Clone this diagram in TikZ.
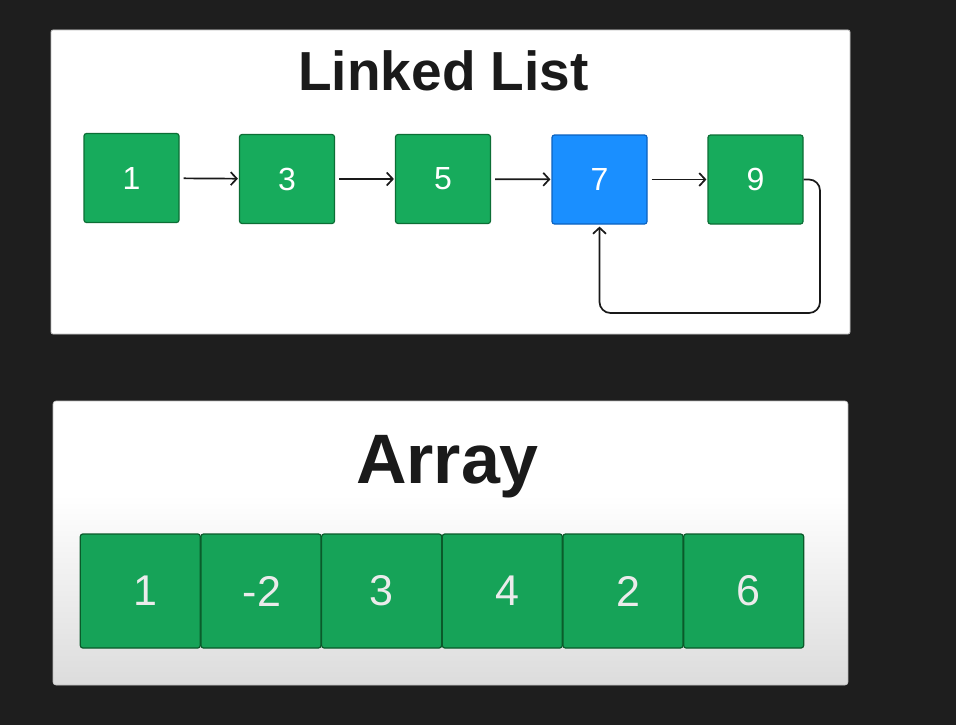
\documentclass[tikz,border=0pt]{standalone}
\usepackage{fontspec}
\setmainfont{Liberation Sans}
\usetikzlibrary{arrows.meta,calc}
\definecolor{bgdark}{HTML}{1E1E1E}
\definecolor{nodegreen}{HTML}{17AB5C}
\definecolor{nodegreenedge}{HTML}{0C6E35}
\definecolor{nodeblue}{HTML}{1A8FFF}
\definecolor{nodeblueedge}{HTML}{0B62C0}
\definecolor{cellgreen}{HTML}{16A358}
\definecolor{celledge}{HTML}{0A5A2A}
\definecolor{titleink}{HTML}{1A1A1A}
\definecolor{panelbot}{HTML}{DCDCDC}
\definecolor{panelline}{HTML}{BDBDBD}
\tikzset{
  listbox/.style={rectangle, rounded corners=2.5pt, minimum width=95pt, minimum height=89pt,
    fill=nodegreen, draw=nodegreenedge, line width=1.2pt, text=white,
    font=\fontsize{32}{36}\selectfont, inner sep=0pt},
  bluebox/.style={listbox, fill=nodeblue, draw=nodeblueedge},
  cellbox/.style={rectangle, rounded corners=2.5pt, minimum width=120pt, minimum height=114pt,
    fill=cellgreen, draw=celledge, line width=1.2pt, text=white!92!black,
    font=\fontsize{43}{48}\selectfont, inner sep=0pt},
  linkarrow/.style={-{Straight Barb[length=6pt,width=13pt,line width=1.7pt]}, line width=1.7pt, black!90},
  title/.style={font=\fontsize{55}{60}\selectfont\bfseries, text=titleink, anchor=base, inner sep=0pt},
}
\begin{document}
\begin{tikzpicture}[x=1pt,y=-1pt]
\fill[bgdark] (0,0) rectangle (956,725);
\useasboundingbox (0,0) rectangle (956,725);
% top panel
\fill[white, draw=panelline, line width=0.8pt, rounded corners=2pt] (51,30) rectangle (850,334);
% bottom panel
\begin{scope}
  \clip[rounded corners=3pt] (53,401) rectangle (848,685);
  \fill[white] (53,401) rectangle (848,685);
  \shade[top color=white, bottom color=panelbot] (53,495) rectangle (848,685);
\end{scope}
\draw[panelline, line width=0.6pt, rounded corners=3pt] (53,401) rectangle (848,685);

\node[title] (lltitle) at (443.5,90) {Linked List};
\node[title, font=\fontsize{70}{76}\selectfont\bfseries] (artitle) at (447.5,483) {Array};

\node[listbox] (n1) at (131.5,178) {1};
\node[listbox] (n3) at (287,179) {3};
\node[listbox] (n5) at (443,179) {5};
\node[bluebox] (n7) at (599.5,179.5) {7};
\node[listbox] (n9) at (755.5,179.5) {9};

\draw[linkarrow, shorten <=4pt, shorten >=1pt] (n1) -- (n3);
\draw[linkarrow, shorten <=4pt, shorten >=1pt] (n3) -- (n5);
\draw[linkarrow, shorten <=4pt, shorten >=1pt] (n5) -- (n7);
\draw[linkarrow, shorten <=4pt, shorten >=1pt] (n7) -- (n9);

\coordinate (loopcorner) at (820,313);
\draw[linkarrow, rounded corners=11pt, shorten >=2pt] (n9.east) -| (loopcorner) -| (n7.south);

\foreach \v/\dx [count=\i from 0] in {1/10,-2/2,3/0,4/10,2/10,6/10} {
  \node[cellbox] (c\i) at ({140.3+120.67*\i},591) {\hspace*{\dx pt}\v};
}
\end{tikzpicture}
\end{document}
